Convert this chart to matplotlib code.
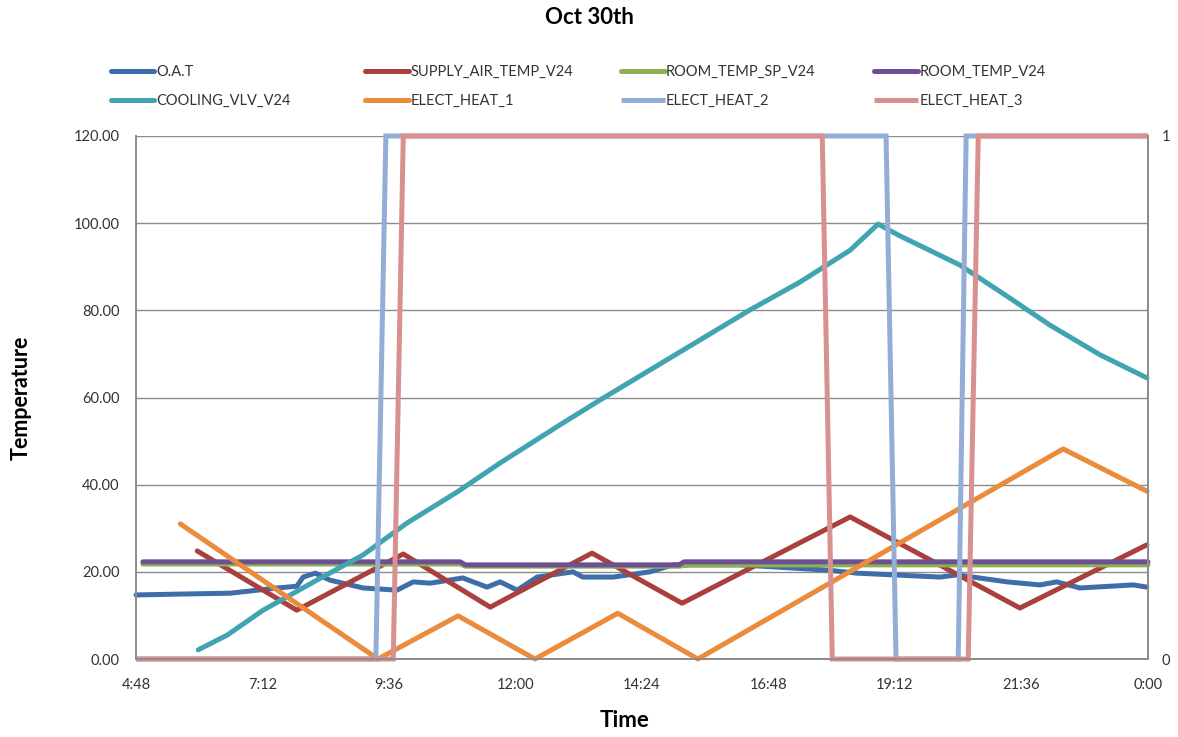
import numpy as np
import matplotlib
matplotlib.use("Agg")
import matplotlib.pyplot as plt
from matplotlib.ticker import FuncFormatter

plt.rcParams["font.family"] = ["Lato", "DejaVu Sans"]

# times in decimal hours (4.8 = 4:48, 24 = 0:00 next day)
oat_t = [4.8, 5.64, 6.58, 7.48, 7.85, 7.97, 8.20, 8.48, 9.11, 9.75, 10.06, 10.38,
         11.00, 11.46, 11.71, 12.03, 12.41, 13.09, 13.28, 13.85, 14.55, 14.99,
         16.26, 17.91, 18.48, 20.05, 20.38, 21.33, 21.95, 22.27, 22.71, 23.72, 23.98]
oat_v = [14.7, 14.9, 15.1, 16.3, 16.7, 18.8, 19.7, 18.1, 16.3, 15.8, 17.7, 17.4,
         18.6, 16.5, 17.7, 15.8, 18.8, 20.0, 18.8, 18.8, 20.0, 21.6,
         21.6, 20.4, 19.7, 18.8, 19.3, 17.7, 17.0, 17.7, 16.3, 17.0, 16.5]

supply_t = [5.96, 7.85, 9.87, 11.52, 13.45, 15.16, 18.35, 21.57, 23.98]
supply_v = [24.8, 11.2, 24.1, 11.9, 24.3, 12.8, 32.6, 11.7, 26.2]

sp_t = [4.93, 10.95, 11.05, 15.1, 15.3, 24.0]
sp_v = [21.8, 21.8, 21.3, 21.3, 21.6, 21.6]

room_t = [4.93, 10.95, 11.05, 15.1, 15.2, 24.0]
room_v = [22.3, 22.3, 21.6, 21.6, 22.3, 22.3]

cool_t = [5.98, 6.53, 7.21, 8.23, 9.11, 9.94, 10.89, 11.71, 12.84, 13.60, 14.55,
          15.50, 16.45, 17.40, 18.35, 18.88, 19.29, 20.43, 21.38, 22.14, 23.09, 23.98]
cool_v = [2.1, 5.5, 11.2, 18.1, 23.9, 31.2, 38.3, 45.0, 53.7, 59.4, 66.3,
          73.2, 80.1, 86.5, 93.8, 99.8, 97.1, 90.4, 82.8, 76.6, 69.8, 64.5]

heat1_t = [5.64, 9.39, 10.91, 12.37, 13.94, 15.46, 22.39, 23.98]
heat1_v = [31.0, 0.0, 9.9, 0.0, 10.5, 0.0, 48.2, 38.5]

heat2_t = [4.8, 9.35, 9.54, 19.03, 19.22, 20.40, 20.55, 24.0]
heat2_v = [0, 0, 1, 1, 0, 0, 1, 1]

heat3_t = [4.8, 9.68, 9.87, 17.82, 18.01, 20.59, 20.78, 24.0]
heat3_v = [0, 0, 1, 1, 0, 0, 1, 1]

x_ticks = [4.8, 7.2, 9.6, 12.0, 14.4, 16.8, 19.2, 21.6, 24.0]
y_ticks = [0, 20, 40, 60, 80, 100, 120]

colors = {
    "O.A.T": "#3E6DA9",
    "SUPPLY_AIR_TEMP_V24": "#A9403D",
    "ROOM_TEMP_SP_V24": "#8CB153",
    "ROOM_TEMP_V24": "#6E4F94",
    "COOLING_VLV_V24": "#40A4B2",
    "ELECT_HEAT_1": "#EB8B3C",
    "ELECT_HEAT_2": "#94ADD6",
    "ELECT_HEAT_3": "#D89090",
}

LW = 3.6
GRAY = "#8C8C8C"


def hfmt(x, pos):
    h = int(round(x * 60)) // 60 % 24
    m = int(round(x * 60)) % 60
    return f"{h}:{m:02d}"


fig = plt.figure(figsize=(11.78, 7.37), dpi=100)
ax = fig.add_axes([0.1155, 0.1058, 0.859, 0.7097])
ax2 = ax.twinx()

left_series = [
    ("O.A.T", oat_t, oat_v),
    ("SUPPLY_AIR_TEMP_V24", supply_t, supply_v),
    ("ROOM_TEMP_SP_V24", sp_t, sp_v),
    ("ROOM_TEMP_V24", room_t, room_v),
    ("COOLING_VLV_V24", cool_t, cool_v),
    ("ELECT_HEAT_1", heat1_t, heat1_v),
]
right_series = [
    ("ELECT_HEAT_2", heat2_t, heat2_v),
    ("ELECT_HEAT_3", heat3_t, heat3_v),
]

handles = {}
for name, t, v in left_series:
    (ln,) = ax.plot(t, v, color=colors[name], lw=LW, clip_on=False,
                    solid_capstyle="round", solid_joinstyle="round", label=name)
    handles[name] = ln
for name, t, v in right_series:
    (ln,) = ax2.plot(t, v, color=colors[name], lw=LW, clip_on=False,
                     solid_capstyle="butt", solid_joinstyle="miter", label=name)
    handles[name] = ln

ax.set_xlim(4.8, 24.0)
ax.set_ylim(0, 120)
ax2.set_ylim(0, 1)
ax.set_xticks(x_ticks)
ax.xaxis.set_major_formatter(FuncFormatter(hfmt))
ax.set_yticks(y_ticks)
ax.yaxis.set_major_formatter(FuncFormatter(lambda y, p: f"{y:.2f}"))
ax2.set_yticks([0, 1])
ax2.set_yticklabels(["0", "1"])

ax.grid(axis="y", color=GRAY, lw=1.0)
ax.set_axisbelow(True)
ax.tick_params(axis="both", length=0, labelsize=10.5, colors="#333333", pad=12)
ax.tick_params(axis="x", pad=14)
ax2.tick_params(axis="y", length=0, labelsize=10.5, colors="#333333", pad=10)

for a in (ax, ax2):
    a.spines["top"].set_visible(False)
    for s in ("left", "right", "bottom"):
        a.spines[s].set_color(GRAY)
        a.spines[s].set_linewidth(1.3)

ax.set_xlabel("Time", fontsize=16, fontweight="bold")
ax.xaxis.set_label_coords(0.483, -0.097)
ax.set_ylabel("Temperature", fontsize=15.5, fontweight="bold", labelpad=30)
fig.suptitle("Oct 30th", fontsize=16, fontweight="bold", y=0.99)

# legend: four columns of two rows
legend_cols = [
    ["O.A.T", "COOLING_VLV_V24"],
    ["SUPPLY_AIR_TEMP_V24", "ELECT_HEAT_1"],
    ["ROOM_TEMP_SP_V24", "ELECT_HEAT_2"],
    ["ROOM_TEMP_V24", "ELECT_HEAT_3"],
]
col_x = [0.094, 0.310, 0.527, 0.742]
for cx, names in zip(col_x, legend_cols):
    leg = fig.legend([handles[n] for n in names], names, loc="upper left",
                     bbox_to_anchor=(cx, 0.912), frameon=False, fontsize=10.5,
                     handlelength=3.0, handletextpad=0.1, labelspacing=1.05,
                     borderpad=0, borderaxespad=0)
    for t in leg.get_texts():
        t.set_color("#333333")

fig.savefig("out.png", dpi=100)
